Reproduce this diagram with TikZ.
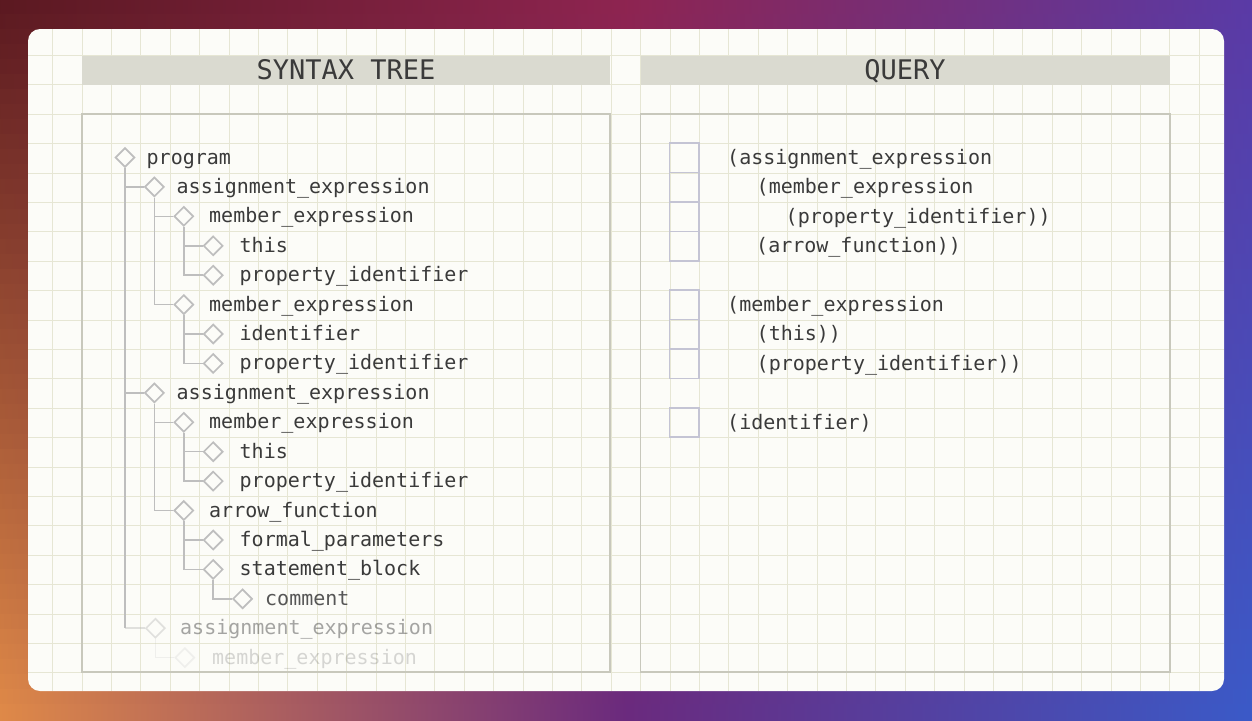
\documentclass[tikz,border=0pt]{standalone}
\usepackage{fontspec}
\newfontfamily\codefont{DejaVu Sans Mono}
\usetikzlibrary{shapes.geometric}
\definecolor{bgUL}{HTML}{5A1820}
\definecolor{bgUM}{HTML}{8E2450}
\definecolor{bgUR}{HTML}{5A3AA6}
\definecolor{bgLL}{HTML}{E08A48}
\definecolor{bgLM}{HTML}{6A2A7E}
\definecolor{bgLR}{HTML}{3A5AC8}
\definecolor{card}{HTML}{FCFCF8}
\definecolor{gridc}{HTML}{E6E6D4}
\definecolor{headfill}{HTML}{DADAD0}
\definecolor{panelline}{HTML}{C8C8BC}
\definecolor{treeline}{HTML}{BEBEBE}
\definecolor{txt}{HTML}{3A3A3A}
\definecolor{qbox}{HTML}{C4C4D4}
\begin{document}
\begin{tikzpicture}[x=1pt,y=-1pt,
  dia/.style={diamond, draw=treeline, line width=1.7pt, fill=card, inner sep=0pt, minimum width=19.5pt, minimum height=19.5pt},
  lbl/.style={anchor=base west, inner sep=0pt, font=\codefont\fontsize{20}{24}\selectfont, text=txt},
  tl/.style={draw=treeline, line width=1.5pt},
  fade1/.style={opacity=0.45},
  fade2/.style={opacity=0.2},
  qsq/.style={draw=qbox, line width=1.6pt, minimum width=29.4pt, minimum height=29.4pt, inner sep=0pt},
  head/.style={fill=headfill, draw=none},
  htxt/.style={anchor=base, font=\codefont\fontsize{27}{30}\selectfont, text=txt, inner sep=0pt},
  panel/.style={draw=panelline, line width=1.8pt}]
\useasboundingbox (0,0) rectangle (1252,720);
% background: horizontal bands, each a left-middle-right shading
\foreach \k in {0,...,47}{
  \pgfmathtruncatemacro{\p}{round(100*(\k+0.5)/48)}
  \colorlet{cl}{bgLL!\p!bgUL}
  \colorlet{cm}{bgLM!\p!bgUM}
  \colorlet{cr}{bgLR!\p!bgUR}
  \shade[left color=cl, right color=cr, middle color=cm] (-1,{15*\k-0.5}) rectangle (1253,{15*\k+15.5});
}
% card
\fill[card, rounded corners=12pt] (28,29) rectangle (1224,691);
\begin{scope}
  \clip[rounded corners=12pt] (28,29) rectangle (1224,691);
  \foreach \i in {1,...,41} \draw[gridc, line width=0.9pt] ({23.2+29.4*\i},29) -- ({23.2+29.4*\i},691);
  \foreach \j in {1,...,23} \draw[gridc, line width=0.9pt] (28,{26.1+29.4*\j}) -- (1224,{26.1+29.4*\j});
\end{scope}
% headers
\fill[head] (82,55.5) rectangle (610,85);
\fill[head] (640.5,55.5) rectangle (1170,85);
\node[htxt] (hst) at (346,79.5) {SYNTAX TREE};
\node[htxt] (hq) at (905,79.5) {QUERY};
% panels
\draw[panel] (82,114) rectangle (610,672);
\draw[panel] (640.5,114) rectangle (1170,672);

% tree diamonds
\node[dia] (p0) at (125,157.5) {};
\node[dia] (a1) at (154.4,186.9) {};
\node[dia] (m1) at (183.8,216.3) {};
\node[dia] (t1) at (213.2,245.8) {};
\node[dia] (pi1) at (213.2,275.2) {};
\node[dia] (m2) at (183.8,304.6) {};
\node[dia] (id2) at (213.2,334.0) {};
\node[dia] (pi2) at (213.2,363.4) {};
\node[dia] (a2) at (154.4,392.9) {};
\node[dia] (m3) at (183.8,422.3) {};
\node[dia] (t3) at (213.2,451.7) {};
\node[dia] (pi3) at (213.2,481.1) {};
\node[dia] (af) at (183.8,510.5) {};
\node[dia] (fp) at (213.2,540.0) {};
\node[dia] (sb) at (213.2,569.4) {};
\node[dia] (cm) at (242.6,598.8) {};
\node[dia, fade1] (a3) at (155.4,628.2) {};
\node[dia, fade2] (m4) at (184.8,657.6) {};

% tree connectors
\draw[tl] (p0.south) |- (a1.west);
\draw[tl] (p0.south) |- (a2.west);
\draw[tl] (p0.south) -- (p0.south |- a3.west);
\draw[tl, fade1] (p0.south |- a3.west) -- (a3.west);
\draw[tl] (a1.south) |- (m1.west);
\draw[tl] (a1.south) |- (m2.west);
\draw[tl] (m1.south) |- (t1.west);
\draw[tl] (m1.south) |- (pi1.west);
\draw[tl] (m2.south) |- (id2.west);
\draw[tl] (m2.south) |- (pi2.west);
\draw[tl] (a2.south) |- (m3.west);
\draw[tl] (a2.south) |- (af.west);
\draw[tl] (m3.south) |- (t3.west);
\draw[tl] (m3.south) |- (pi3.west);
\draw[tl] (af.south) |- (fp.west);
\draw[tl] (af.south) |- (sb.west);
\draw[tl] (sb.south) |- (cm.west);
\draw[tl, fade2] (a3.south) |- (m4.west);

% tree labels (baseline = row + 6.5)
\node[lbl] (lp0) at (146.5,164.0) {program};
\node[lbl] (la1) at (176.5,193.4) {assignment\_expression};
\node[lbl] (lm1) at (209,222.8) {member\_expression};
\node[lbl] (lt1) at (239.5,252.3) {this};
\node[lbl] (lpi1) at (239.5,281.7) {property\_identifier};
\node[lbl] (lm2) at (209,311.1) {member\_expression};
\node[lbl] (lid2) at (239.5,340.5) {identifier};
\node[lbl] (lpi2) at (239.5,369.9) {property\_identifier};
\node[lbl] (la2) at (176.5,399.4) {assignment\_expression};
\node[lbl] (lm3) at (209,428.8) {member\_expression};
\node[lbl] (lt3) at (239.5,458.2) {this};
\node[lbl] (lpi3) at (239.5,487.6) {property\_identifier};
\node[lbl] (laf) at (209,517.0) {arrow\_function};
\node[lbl] (lfp) at (239.5,546.5) {formal\_parameters};
\node[lbl] (lsb) at (239.5,575.9) {statement\_block};
\node[lbl, opacity=0.85] (lcm) at (265,605.3) {comment};
\node[lbl, fade1] (la3) at (180,634.7) {assignment\_expression};
\node[lbl, fade2] (lm4) at (212,664.1) {member\_expression};

% query squares
\node[qsq] (q1) at (684,157.9) {};
\node[qsq] (q2) at (684,187.3) {};
\node[qsq] (q3) at (684,216.7) {};
\node[qsq] (q4) at (684,246.1) {};
\node[qsq] (q5) at (684,304.9) {};
\node[qsq] (q6) at (684,334.3) {};
\node[qsq] (q7) at (684,363.7) {};
\node[qsq] (q8) at (684,422.5) {};

% query text
\node[lbl] (qt1) at (727,164.4) {(assignment\_expression};
\node[lbl] (qt2) at (756.5,193.8) {(member\_expression};
\node[lbl] (qt3) at (785.5,223.2) {(property\_identifier))};
\node[lbl] (qt4) at (756,252.6) {(arrow\_function))};
\node[lbl] (qt5) at (727,311.4) {(member\_expression};
\node[lbl] (qt6) at (756.5,340.8) {(this))};
\node[lbl] (qt7) at (756.5,370.2) {(property\_identifier))};
\node[lbl] (qt8) at (727,429.0) {(identifier)};
\end{tikzpicture}
\end{document}
